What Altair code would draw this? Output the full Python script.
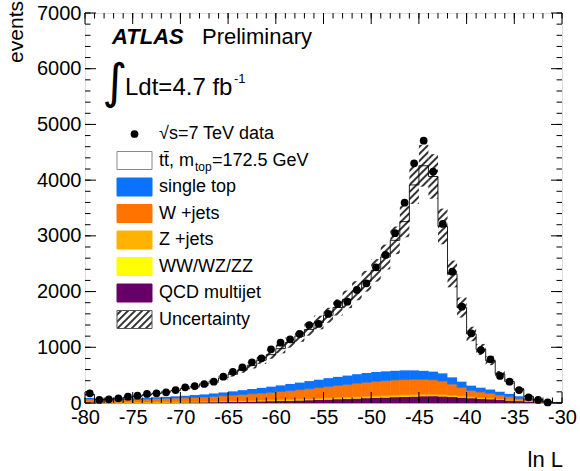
import altair as alt
import pandas as pd
from altair.utils.html import TEMPLATES

# ---- binned values (lower bin edge, 1-unit bins from -80 to -30) ----
bin_lo = list(range(-80, -30))

data_events = [174, 54, 66, 84, 113, 131, 162, 174, 192, 233,
               282, 305, 341, 383, 472, 560, 641, 731, 802, 964,
               1083, 1144, 1239, 1400, 1418, 1598, 1777, 1819, 2029, 2149,
               2436, 2657, 3047, 3596, 4303, 4709, 4153, 3214, 2357, 1729,
               1251, 951, 784, 485, 383, 233, 102, 54, 10, None]

mc_total = [150, 62, 72, 86, 104, 124, 146, 170, 196, 226,
            262, 300, 344, 392, 450, 516, 592, 676, 768, 868,
            975, 1085, 1200, 1320, 1445, 1575, 1715, 1860, 2015, 2185,
            2380, 2620, 2920, 3255, 3914, 4258, 4066, 3169, 2316, 1714,
            1239, 960, 760, 520, 385, 245, 120, 60, 22, 6]

mc_unc = [14, 6, 7, 8, 9, 11, 13, 15, 17, 19,
          22, 25, 29, 33, 38, 43, 50, 57, 65, 74,
          83, 92, 102, 112, 123, 134, 146, 158, 171, 186,
          202, 223, 248, 280, 340, 375, 400, 320, 240, 180,
          130, 100, 80, 55, 40, 26, 13, 7, 3, 1]

single_top = [25, 15, 15, 17, 19, 21, 24, 27, 30, 34,
              38, 43, 48, 55, 62, 70, 78, 86, 95, 104,
              112, 120, 128, 136, 143, 150, 155, 160, 164, 166,
              168, 168, 167, 165, 160, 155, 148, 138, 122, 105,
              88, 78, 70, 62, 52, 40, 28, 16, 8, 3]

w_jets = [50, 40, 40, 42, 45, 48, 52, 56, 60, 64,
          68, 72, 78, 84, 92, 100, 108, 116, 124, 132,
          142, 152, 165, 178, 190, 202, 214, 225, 238, 248,
          258, 265, 270, 272, 270, 265, 255, 240, 195, 150,
          110, 95, 82, 65, 48, 30, 18, 10, 5, 2]

z_jets = [6, 4, 4, 4, 5, 5, 5, 6, 6, 7,
          7, 8, 8, 9, 10, 11, 12, 13, 14, 15,
          16, 17, 18, 19, 20, 21, 22, 23, 24, 25,
          26, 26, 27, 27, 27, 27, 26, 25, 23, 21,
          18, 16, 14, 12, 10, 8, 6, 4, 2, 1]

diboson = [1, 1, 1, 1, 1, 1, 1, 2, 2, 2,
           2, 2, 2, 3, 3, 3, 3, 4, 4, 4,
           4, 5, 5, 5, 5, 6, 6, 6, 6, 7,
           7, 7, 7, 7, 7, 7, 7, 6, 6, 5,
           5, 4, 4, 3, 3, 2, 2, 1, 1, 0]

qcd = [12, 8, 8, 9, 10, 11, 12, 13, 14, 15,
       17, 18, 20, 22, 24, 27, 30, 33, 36, 40,
       44, 48, 52, 56, 62, 68, 74, 80, 86, 92,
       98, 104, 110, 116, 122, 126, 128, 124, 115, 104,
       92, 84, 74, 62, 52, 42, 30, 20, 10, 4]

x_major = [-80, -75, -70, -65, -60, -55, -50, -45, -40, -35, -30]
x_minor = list(range(-80, -29))
y_major = [0, 1000, 2000, 3000, 4000, 5000, 6000, 7000]
y_minor = list(range(0, 7001, 200))

# stacking order, bottom to top
stack = [
    ("QCD multijet", qcd, "#660066"),
    ("WW/WZ/ZZ", diboson, "#ffff00"),
    ("Z +jets", z_jets, "#ffb300"),
    ("W +jets", w_jets, "#ff7300"),
    ("single top", single_top, "#0a72ff"),
]

W, H = 477, 390
FONT = "Liberation Sans"

rows = []
base = [0] * len(bin_lo)
for name, vals, _ in stack:
    for i, lo in enumerate(bin_lo):
        rows.append({"lo": lo, "hi": lo + 1, "y0": base[i], "y1": base[i] + vals[i], "comp": name})
    base = [b + v for b, v in zip(base, vals)]
bkg_df = pd.DataFrame(rows)

tt_df = pd.DataFrame({"lo": bin_lo, "hi": [b + 1 for b in bin_lo], "y0": base, "y1": mc_total})
step_df = pd.DataFrame({"x": bin_lo + [-30], "y": mc_total + [mc_total[-1]]})
unc_df = pd.DataFrame({
    "lo": bin_lo, "hi": [b + 1 for b in bin_lo],
    "lo_y": [m - u for m, u in zip(mc_total, mc_unc)],
    "hi_y": [m + u for m, u in zip(mc_total, mc_unc)],
})
pts_df = pd.DataFrame({"x": [b + 0.5 for b in bin_lo], "y": data_events}).dropna()

xs = alt.Scale(domain=[-80, -30], nice=False, zero=False)
ys = alt.Scale(domain=[0, 7000], nice=False, zero=False)

x_axis = alt.Axis(values=x_major, labelExpr="'' + datum.value", labelFontSize=20, labelFont=FONT,
                  labelColor="#000", labelPadding=4, labelFlush=False, labelOverlap=False,
                  ticks=False, domain=False, grid=False, title=None)
y_axis = alt.Axis(values=y_major, labelExpr="'' + datum.value", labelFontSize=20, labelFont=FONT,
                  labelColor="#000", labelPadding=4, labelOverlap=False,
                  ticks=False, domain=False, grid=False, title=None)

color_scale = alt.Scale(domain=[s[0] for s in stack], range=[s[2] for s in stack])

bkg = alt.Chart(bkg_df).mark_rect(strokeWidth=0.6).encode(
    x=alt.X("lo:Q", scale=xs, axis=x_axis),
    x2="hi:Q",
    y=alt.Y("y0:Q", scale=ys, axis=y_axis),
    y2="y1:Q",
    fill=alt.Fill("comp:N", scale=color_scale, legend=None),
    stroke=alt.Stroke("comp:N", scale=color_scale, legend=None),
)

ttbar = alt.Chart(tt_df).mark_rect(fill="white").encode(
    x=alt.X("lo:Q", scale=xs), x2="hi:Q", y=alt.Y("y0:Q", scale=ys), y2="y1:Q")

step = alt.Chart(step_df).mark_line(interpolate="step-after", color="#222", strokeWidth=1).encode(
    x=alt.X("x:Q", scale=xs), y=alt.Y("y:Q", scale=ys))

unc = alt.Chart(unc_df).mark_rect(fill="url(#hatch)").encode(
    x=alt.X("lo:Q", scale=xs), x2="hi:Q", y=alt.Y("lo_y:Q", scale=ys), y2="hi_y:Q")

pts = alt.Chart(pts_df).mark_point(filled=True, shape="circle", size=60, color="#000", opacity=1).encode(
    x=alt.X("x:Q", scale=xs), y=alt.Y("y:Q", scale=ys))


# inward-pointing frame ticks on all four sides
def yticks(vals, length):
    df = pd.DataFrame({"v": vals})
    left = alt.Chart(df).mark_rule(color="#000", strokeWidth=1).encode(
        y=alt.Y("v:Q", scale=ys), x=alt.value(0), x2=alt.value(length))
    right = alt.Chart(df).mark_rule(color="#000", strokeWidth=1).encode(
        y=alt.Y("v:Q", scale=ys), x=alt.value(W), x2=alt.value(W - length))
    return [left, right]


def xticks(vals, length):
    df = pd.DataFrame({"v": vals})
    bottom = alt.Chart(df).mark_rule(color="#000", strokeWidth=1).encode(
        x=alt.X("v:Q", scale=xs), y=alt.value(H), y2=alt.value(H - length))
    top = alt.Chart(df).mark_rule(color="#000", strokeWidth=1).encode(
        x=alt.X("v:Q", scale=xs), y=alt.value(0), y2=alt.value(length))
    return [bottom, top]


ticks = yticks(y_minor, 5.5) + yticks(y_major, 11) + xticks(x_minor, 5.5) + xticks(x_major, 11)

dummy = pd.DataFrame({"k": [0]})


def label(text, x, y, size, **kw):
    return alt.Chart(dummy).mark_text(text=text, fontSize=size, font=kw.pop("font", FONT),
                                      color=kw.pop("color", "#000"), align=kw.pop("align", "left"),
                                      baseline=kw.pop("baseline", "alphabetic"), **kw).encode(
        x=alt.value(x), y=alt.value(y))


texts = [
    label("ATLAS", 27, 31, 22, fontWeight="bold", fontStyle="italic"),
    label("Preliminary", 117, 31, 22),
    label("\u222b", 30, 71, 48, font="DejaVu Sans", align="center", baseline="middle"),
    label("Ldt=4.7 fb", 40, 82, 24),
    label("-1", 149, 70, 13),
    label("events", -62, -12, 21, angle=270, align="right"),
    label("ln L", 478, 454, 22, align="right"),
]

# legend
leg_x0, leg_x1, leg_txt = 32, 67, 74
leg_top, leg_dy, box_h = 121, 26.5, 18
entries = ["data", "ttbar"] + [s[0] for s in reversed(stack)] + ["Uncertainty"]
colors = {s[0]: s[2] for s in stack}
legend = []
for i, name in enumerate(entries):
    cy = leg_top + i * leg_dy
    if name == "data":
        legend.append(alt.Chart(dummy).mark_point(filled=True, shape="circle", size=60, color="#000", opacity=1)
                      .encode(x=alt.value((leg_x0 + leg_x1) / 2), y=alt.value(cy)))
        legend.append(label("\u221as=7 TeV data", leg_txt, cy, 18, baseline="middle"))
        continue
    if name == "ttbar":
        fill, stroke = "white", "#888"
    elif name == "Uncertainty":
        fill, stroke = "url(#hatch)", "#555"
    else:
        fill, stroke = colors[name], colors[name]
    legend.append(alt.Chart(dummy).mark_rect(fill=fill, stroke=stroke, strokeWidth=1).encode(
        x=alt.value(leg_x0), x2=alt.value(leg_x1), y=alt.value(cy - box_h / 2), y2=alt.value(cy + box_h / 2)))
    if name == "ttbar":
        legend.append(label("tt\u0304, m", leg_txt, cy, 18, baseline="middle"))
        legend.append(label("top", leg_txt + 36, cy + 6, 12, baseline="middle"))
        legend.append(label("=172.5 GeV", leg_txt + 53, cy, 18, baseline="middle"))
    else:
        legend.append(label(name, leg_txt, cy, 18, baseline="middle"))

chart = alt.layer(bkg, ttbar, step, unc, pts, *ticks, *texts, *legend).properties(
    width=W, height=H,
    autosize=alt.AutoSizeParams(type="none"),
    padding={"left": 85, "top": 13, "right": 18, "bottom": 68},
).configure_view(stroke="#000", strokeWidth=1).configure(background="white")

# page template that adds the hatch pattern used by the uncertainty band
HATCH_DEFS = (
    '<svg width="0" height="0" style="position:absolute">'
    '<defs><pattern id="hatch" patternUnits="userSpaceOnUse" width="5" height="5" '
    'patternTransform="rotate(45)">'
    '<line x1="1" y1="-1" x2="1" y2="6" stroke="#000" stroke-width="1.6"/>'
    '</pattern></defs></svg>'
)


class HatchPage:
    def render(self, **kwargs):
        page = TEMPLATES["standard"].render(**kwargs)
        return page.replace("<body>", "<body>" + HATCH_DEFS, 1)


chart.save("out.html", embed_options={"renderer": "svg", "actions": False}, template=HatchPage())
